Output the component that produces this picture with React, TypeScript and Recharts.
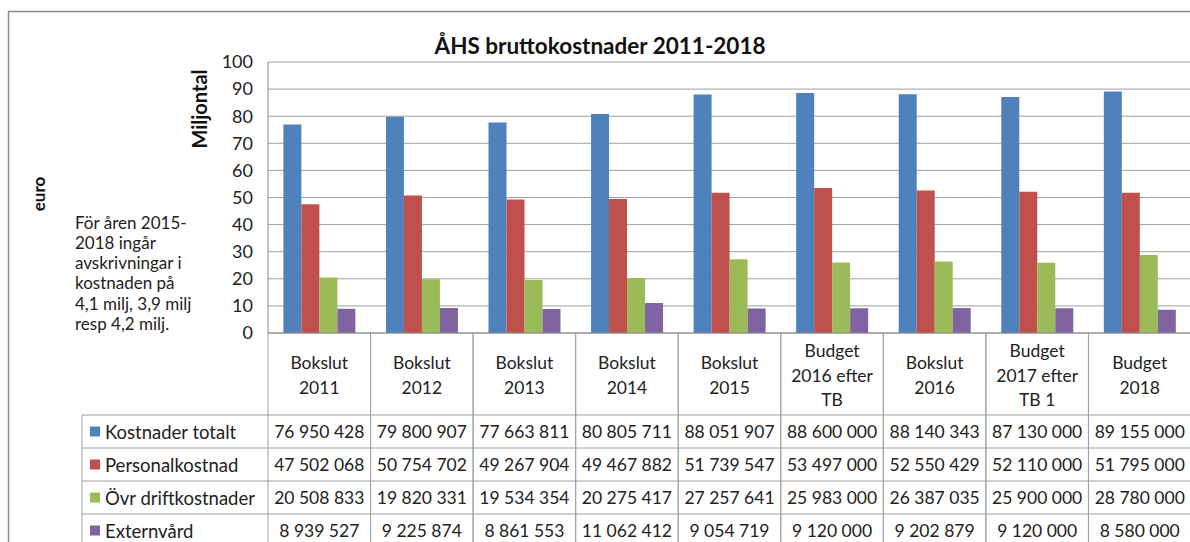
import React from 'react';
import { BarChart, Bar, XAxis, YAxis, CartesianGrid } from 'recharts';

const categories: string[][] = [
  ['Bokslut', '2011'],
  ['Bokslut', '2012'],
  ['Bokslut', '2013'],
  ['Bokslut', '2014'],
  ['Bokslut', '2015'],
  ['Budget', '2016 efter', 'TB'],
  ['Bokslut', '2016'],
  ['Budget', '2017 efter', 'TB 1'],
  ['Budget', '2018'],
];
const kostnaderTotalt = [76950428, 79800907, 77663811, 80805711, 88051907, 88600000, 88140343, 87130000, 89155000];
const personalkostnad = [47502068, 50754702, 49267904, 49467882, 51739547, 53497000, 52550429, 52110000, 51795000];
const ovrDriftkostnader = [20508833, 19820331, 19534354, 20275417, 27257641, 25983000, 26387035, 25900000, 28780000];
const externvard = [8939527, 9225874, 8861553, 11062412, 9054719, 9120000, 9202879, 9120000, 8580000];
const yTicks = [0, 10, 20, 30, 40, 50, 60, 70, 80, 90, 100];
const seriesNames = ['Kostnader totalt', 'Personalkostnad', 'Övr driftkostnader', 'Externvård'];
const seriesKeys = ['total', 'personal', 'ovr', 'extern'];
const seriesColors = ['#4F81BD', '#C0504D', '#9BBB59', '#8064A2'];
const seriesValues = [kostnaderTotalt, personalkostnad, ovrDriftkostnader, externvard];
const noteLines = ['För åren 2015-', '2018 ingår', 'avskrivningar i', 'kostnaden på', '4,1 milj, 3,9 milj', 'resp 4,2 milj.'];

const data = categories.map((c, i) => ({
  name: c.join(' '),
  total: kostnaderTotalt[i] / 1e6,
  personal: personalkostnad[i] / 1e6,
  ovr: ovrDriftkostnader[i] / 1e6,
  extern: externvard[i] / 1e6,
}));

const FONT = 'Lato, "Open Sans", sans-serif';
const CHART_W = 1192;
const CHART_H = 600;
const PLOT_LEFT = 268;
const PLOT_TOP = 62;
const PLOT_BOTTOM = 333;
const CELL_W = (CHART_W - 1 - PLOT_LEFT) / categories.length;
const HEADER_BOTTOM = 415;
const ROW_H = 33;
const LABEL_LEFT = 82;
const LINE = '#a0a0a0';

const fmt = (n: number) => String(n).replace(/\B(?=(\d{3})+(?!\d))/g, ' ');

const TableTick = (props: any) => {
  const { x, payload } = props;
  const i = payload.index;
  const left = x - CELL_W / 2;
  const right = x + CELL_W / 2;
  const lines = categories[i];
  const lineH = 24.5;
  const mid = (PLOT_BOTTOM + HEADER_BOTTOM) / 2 + 1;
  const start = mid - ((lines.length - 1) * lineH) / 2;
  return (
    <g>
      <line x1={left} x2={left} y1={PLOT_BOTTOM} y2={CHART_H} stroke={LINE} />
      <line x1={right} x2={right} y1={PLOT_BOTTOM} y2={CHART_H} stroke={LINE} />
      {lines.map((l, k) => (
        <text key={k} x={x} y={start + k * lineH} textAnchor="middle" dominantBaseline="central"
          fontFamily={FONT} fontSize={17.5} fill="#222">{l}</text>
      ))}
      {seriesValues.map((vals, r) => (
        <g key={r}>
          <line x1={left} x2={right} y1={HEADER_BOTTOM + r * ROW_H} y2={HEADER_BOTTOM + r * ROW_H} stroke={LINE} />
          <text x={x} y={HEADER_BOTTOM + r * ROW_H + ROW_H / 2} textAnchor="middle" dominantBaseline="central"
            fontFamily={FONT} fontSize={17.5} fill="#222">{fmt(vals[i])}</text>
        </g>
      ))}
      <line x1={left} x2={right} y1={HEADER_BOTTOM + 4 * ROW_H} y2={HEADER_BOTTOM + 4 * ROW_H} stroke={LINE} />
      {i === 0 && (
        <g>
          <line x1={LABEL_LEFT} x2={LABEL_LEFT} y1={HEADER_BOTTOM} y2={CHART_H} stroke={LINE} />
          {seriesNames.map((s, r) => (
            <g key={s}>
              <line x1={LABEL_LEFT} x2={left} y1={HEADER_BOTTOM + r * ROW_H} y2={HEADER_BOTTOM + r * ROW_H} stroke={LINE} />
              <rect x={LABEL_LEFT + 8} y={HEADER_BOTTOM + r * ROW_H + ROW_H / 2 - 5} width={10} height={10} fill={seriesColors[r]} />
              <text x={LABEL_LEFT + 23} y={HEADER_BOTTOM + r * ROW_H + ROW_H / 2} dominantBaseline="central"
                fontFamily={FONT} fontSize={18.5} fill="#222">{s}</text>
            </g>
          ))}
          <line x1={LABEL_LEFT} x2={left} y1={HEADER_BOTTOM + 4 * ROW_H} y2={HEADER_BOTTOM + 4 * ROW_H} stroke={LINE} />
        </g>
      )}
    </g>
  );
};

export default function App() {
  return (
    <div style={{ position: 'absolute', left: 0, top: 0, width: 1190, height: 542, overflow: 'hidden', background: '#fff' }}>
      <div style={{ position: 'absolute', left: 0, top: 0 }}>
        <BarChart width={CHART_W} height={CHART_H} data={data}
          margin={{ top: PLOT_TOP, right: 1, left: 0, bottom: 0 }}
          barCategoryGap="15%" barGap={0}>
          <CartesianGrid vertical={false} stroke={LINE} />
          <YAxis width={PLOT_LEFT} domain={[0, 100]} ticks={yTicks} interval={0}
            tickLine={false} axisLine={{ stroke: '#8a8a8a' }} tickMargin={9}
            tick={{ fontFamily: FONT, fontSize: 18, fill: '#222' }} />
          <XAxis dataKey="name" height={CHART_H - PLOT_BOTTOM} interval={0} tickLine={false}
            axisLine={{ stroke: '#8a8a8a' }} tick={<TableTick />} />
          {seriesKeys.map((k, i) => (
            <Bar key={k} dataKey={k} name={seriesNames[i]} fill={seriesColors[i]} isAnimationActive={false} />
          ))}
        </BarChart>
      </div>
      <svg width={1190} height={542} style={{ position: 'absolute', left: 0, top: 0, pointerEvents: 'none' }}>
        <rect x={8.5} y={11.5} width={1300} height={700} fill="none" stroke="#8a8a8a" strokeWidth={1.5} />
        <text x={600} y={45} textAnchor="middle" dominantBaseline="central" fontFamily={FONT}
          fontWeight="bold" fontSize={22.5} fill="#111">ÅHS bruttokostnader 2011-2018</text>
        <text transform="translate(199,109) rotate(-90)" textAnchor="middle" dominantBaseline="central"
          fontFamily={FONT} fontWeight="bold" fontSize={20} fill="#111">Miljontal</text>
        <text transform="translate(38,194) rotate(-90)" textAnchor="middle" dominantBaseline="central"
          fontFamily={FONT} fontWeight="bold" fontSize={17} fill="#111">euro</text>
        {noteLines.map((l, k) => (
          <text key={k} x={75} y={222 + k * 20.3} dominantBaseline="central" fontFamily={FONT}
            fontSize={17} fill="#222">{l}</text>
        ))}
      </svg>
    </div>
  );
}
